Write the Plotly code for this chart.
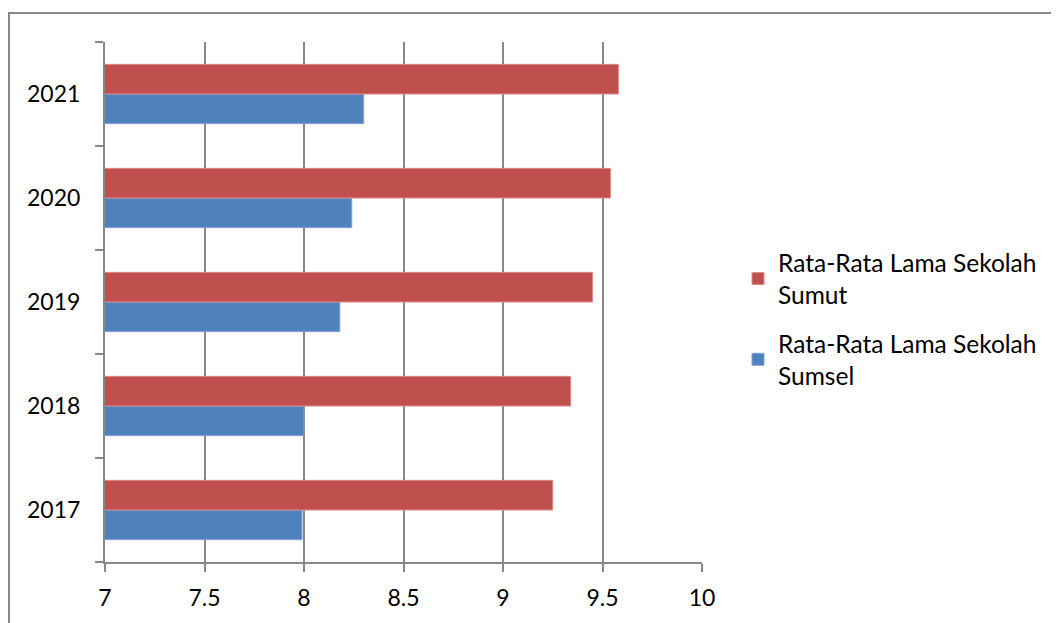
import plotly.graph_objects as go

years = ["2017", "2018", "2019", "2020", "2021"]
sumsel = [7.99, 8.00, 8.18, 8.24, 8.30]
sumut = [9.25, 9.34, 9.45, 9.54, 9.58]
name_sumsel = "Rata-Rata Lama Sekolah<br>Sumsel"
name_sumut = "Rata-Rata Lama Sekolah<br>Sumut"
x_ticks = [7, 7.5, 8, 8.5, 9, 9.5, 10]
x_tick_text = ["7", "7.5", "8", "8.5", "9", "9.5", "10"]

# page body has an 8px margin; work in figure coordinates
W, H = 1051, 615
L, T = 97, 34
R, B = W - 694, H - 556
pw, ph = W - L - R, H - T - B

fig = go.Figure()
fig.add_trace(go.Bar(y=years, x=sumsel, orientation="h", name=name_sumsel,
                     legendgroup="sumsel", legendrank=2,
                     marker=dict(color="#4F81BD", line=dict(color="#7FA3D3", width=1)),
                     base=0))
fig.add_trace(go.Bar(y=years, x=sumut, orientation="h", name=name_sumut,
                     legendgroup="sumut", legendrank=1,
                     marker=dict(color="#C0504D", line=dict(color="#D98B89", width=1)),
                     base=0))

font = dict(family="Lato, Liberation Sans, sans-serif", size=23, color="#000000")

fig.update_layout(
    width=W, height=H,
    margin=dict(l=L, r=R, t=T, b=B),
    paper_bgcolor="white", plot_bgcolor="white",
    barmode="group", bargap=0.43, bargroupgap=0,
    font=font,
    showlegend=True,
    legend=dict(traceorder="grouped", x=(730 - L) / pw, xanchor="left",
                y=(H - B - 233) / ph, yanchor="top",
                font=dict(family="Lato, Liberation Sans, sans-serif", size=24.5, color="#000000"),
                tracegroupgap=14, bgcolor="rgba(0,0,0,0)"),
    xaxis=dict(range=[7, 10], tickvals=x_ticks, ticktext=x_tick_text,
               showgrid=True, gridcolor="#878787", gridwidth=2,
               showline=True, linecolor="#878787", linewidth=2,
               ticks="outside", ticklen=8, tickcolor="#878787", tickwidth=2,
               zeroline=False, tickfont=font, ticklabelstandoff=6),
    yaxis=dict(type="category", categoryorder="array", categoryarray=years,
               showgrid=False, showline=True, linecolor="#878787", linewidth=2,
               ticks="outside", ticklen=8, tickcolor="#878787", tickwidth=2,
               tickson="boundaries", tickfont=font, ticklabelstandoff=18),
    shapes=[dict(type="rect", xref="paper", yref="paper",
                 x0=(1 - L) / pw, x1=(W + 20 - L) / pw,
                 y0=(H - B - (H + 20)) / ph, y1=(H - B - 5) / ph,
                 line=dict(color="#878787", width=2), fillcolor="rgba(0,0,0,0)",
                 layer="below")],
)

fig.write_html("out.html")
